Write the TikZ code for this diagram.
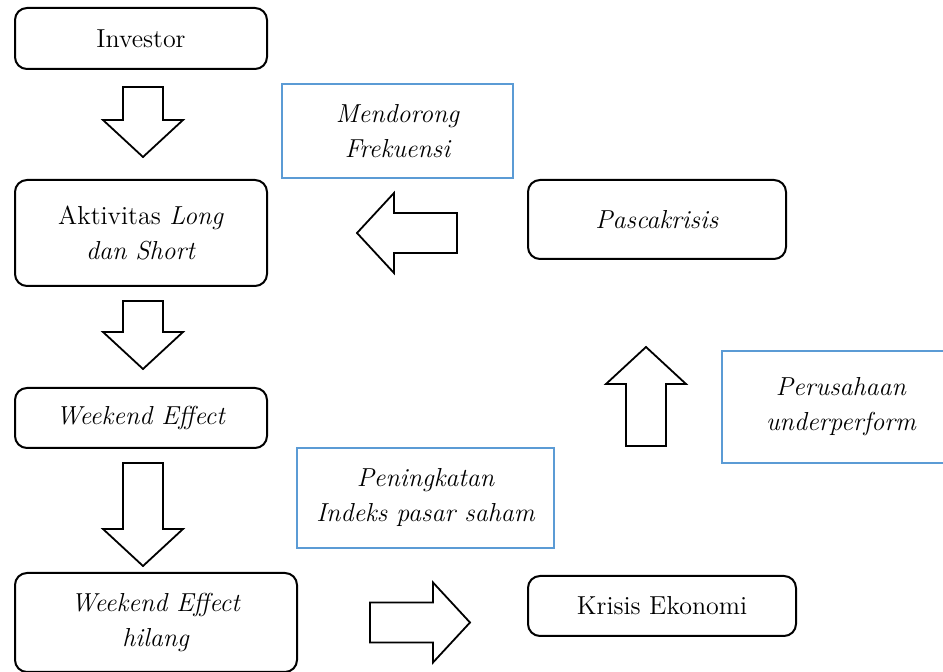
\documentclass[tikz,border=0pt]{standalone}
\usetikzlibrary{positioning,calc}
\definecolor{notecol}{RGB}{91,155,213}
\tikzset{
  box/.style={draw,rounded corners=6pt,line width=1pt,align=center,font=\fontsize{13}{17.5}\selectfont},
  note/.style={draw=notecol,line width=1pt,align=center,font=\fontsize{13}{17.5}\selectfont\itshape},
  arrowline/.style={draw,line width=0.9pt,fill=white,line join=miter},
  pics/blockarrow/.style={code={
      \path[arrowline] (0,-20) -- ({#1-37},-20) -- ({#1-37},-40) -- (#1,0)
        -- ({#1-37},40) -- ({#1-37},20) -- (0,20) -- cycle;
  }}
}
\begin{document}
\begin{tikzpicture}[x=0.5pt,y=0.5pt]
  \useasboundingbox (0,0) rectangle (943,-672);

  % left column
  \path (141,-38.5) node[box,minimum width=126pt,minimum height=30.5pt] (inv) {Investor};
  \path (141,-233) node[box,minimum width=126pt,minimum height=53pt] (akt) {Aktivitas \textit{Long}\\\textit{dan Short}};
  \path (141,-418) node[box,minimum width=126pt,minimum height=30pt] (wkd) {\textit{Weekend Effect}};
  \path (156,-622.5) node[box,minimum width=141pt,minimum height=49.5pt] (hil) {\textit{Weekend Effect}\\\textit{hilang}};

  % right column
  \path (662,-606) node[box,minimum width=134pt,minimum height=30pt] (kri) {Krisis Ekonomi};
  \path (657,-219.5) node[box,minimum width=129pt,minimum height=39.5pt] (pas) {\textit{Pascakrisis}};

  % notes
  \path (397.5,-131) node[note,minimum width=115.5pt,minimum height=47pt] (mend) {Mendorong\\Frekuensi};
  \path (425.5,-498) node[note,minimum width=128.5pt,minimum height=50pt] (pen) {Peningkatan\\Indeks pasar saham};
  \path (841,-407) node[note,minimum width=119pt,minimum height=56pt] (peru) {Perusahaan\\underperform};

  % block arrows
  \pic[rotate=-90] at ($(inv.south)+(2,-17)$) {blockarrow=70};
  \pic[rotate=-90] at ($(akt.south)+(2,-14)$) {blockarrow=68};
  \pic[rotate=-90] at ($(wkd.south)+(2,-14)$) {blockarrow=103};
  \pic at ($(hil.east)+(72,0)$) {blockarrow=100};
  \pic[rotate=90] at ($(kri.north)+(-16,129)$) {blockarrow=99};
  \pic[rotate=180] at ($(akt.east)+(189,0)$) {blockarrow=100};
\end{tikzpicture}
\end{document}
